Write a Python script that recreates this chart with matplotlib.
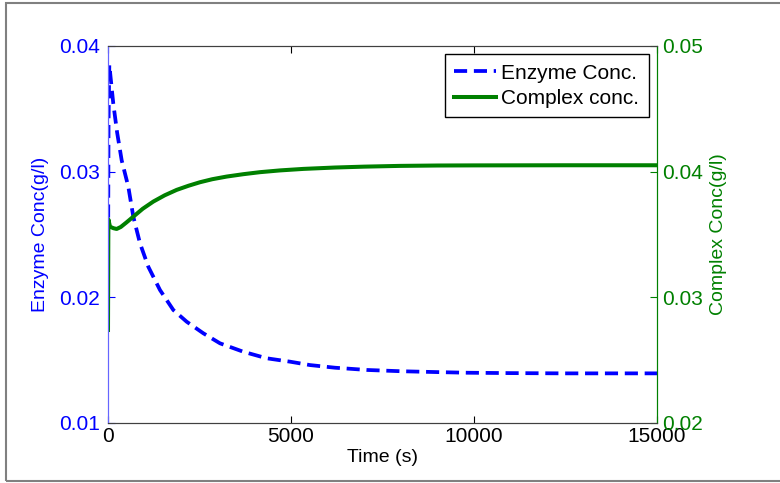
import matplotlib
matplotlib.use("Agg")
import matplotlib.pyplot as plt
from matplotlib.patches import Rectangle

plt.rcParams["font.family"] = ["Liberation Sans", "DejaVu Sans"]

# enzyme concentration (left axis, g/l)
t_enz = [0, 15, 36, 145, 250, 374, 555, 692, 874, 1102, 1421, 1785, 2150,
         2604, 3060, 3697, 4335, 4973, 5519, 6200, 7076, 8000, 9000, 9809,
         11000, 12500, 15000]
enzyme = [0.0216, 0.0340, 0.0385, 0.0354, 0.0331, 0.0309, 0.0288, 0.02641,
          0.0243, 0.02243, 0.02058, 0.01899, 0.01806, 0.01714, 0.01634,
          0.01567, 0.01515, 0.01488, 0.01461, 0.01440, 0.01422, 0.01412,
          0.01405, 0.01400, 0.01397, 0.01395, 0.01395]

# complex concentration (right axis, g/l)
t_cpx = [0, 10, 55, 150, 237, 350, 500, 692, 950, 1238, 1550, 1876, 2200,
         2514, 2850, 3242, 3700, 4153, 4700, 5337, 6200, 7000, 7978, 9000,
         10000, 12500, 15000]
complex_c = [0.0274, 0.0362, 0.03562, 0.03550, 0.03544, 0.03560, 0.03595,
             0.03642, 0.03705, 0.03762, 0.03812, 0.03855, 0.03888, 0.03916,
             0.03940, 0.03961, 0.03980, 0.03996, 0.04010, 0.04022, 0.04033,
             0.04040, 0.04046, 0.04049, 0.04050, 0.04051, 0.04051]

BLUE = "#0000ff"
GREEN = "#008000"
FS = 15        # tick labels / legend
FS_LAB = 14    # axis labels

fig = plt.figure(figsize=(7.8, 4.83), dpi=100)
ax = fig.add_axes([108 / 780, 1 - 423 / 483, (657 - 108) / 780, (423 - 46) / 483])
ax2 = ax.twinx()

l1, = ax.plot(t_enz, enzyme, color=BLUE, lw=2.7, ls=(0, (3.5, 1.8)), label="Enzyme Conc.")
l2, = ax2.plot(t_cpx, complex_c, color=GREEN, lw=2.9, label="Complex conc.")

ax.set_xlim(0, 15000)
ax.set_ylim(0.01, 0.04)
ax2.set_ylim(0.02, 0.05)
ax.set_xticks([0, 5000, 10000, 15000])
ax.set_yticks([0.01, 0.02, 0.03, 0.04])
ax2.set_yticks([0.02, 0.03, 0.04, 0.05])
ax.set_yticklabels(["0.01", "0.02", "0.03", "0.04"])
ax2.set_yticklabels(["0.02", "0.03", "0.04", "0.05"])

ax.tick_params(axis="x", direction="in", length=5, top=True, labelsize=FS, colors="black", pad=3)
ax.tick_params(axis="y", direction="in", length=5, labelsize=FS, colors=BLUE, pad=6)
ax2.tick_params(axis="y", direction="in", length=5, labelsize=FS, colors=GREEN, pad=4)

for a in (ax, ax2):
    a.spines["top"].set_color("#404040")
    a.spines["bottom"].set_color("#404040")
    a.spines["left"].set_color("#6666ff")
    a.spines["right"].set_color(GREEN)

ax.set_xlabel("Time (s)", fontsize=FS_LAB, labelpad=2)
ax.set_ylabel("Enzyme Conc(g/l)", fontsize=FS_LAB, color=BLUE, labelpad=7)
ax2.set_ylabel("Complex Conc(g/l)", fontsize=FS_LAB, color=GREEN, labelpad=5)

leg = ax2.legend([l1, l2], ["Enzyme Conc.", "Complex conc."], loc="upper right",
                 fontsize=FS, fancybox=False, framealpha=1, edgecolor="black",
                 handlelength=2.0, handletextpad=0.25, labelspacing=0.3,
                 borderaxespad=0.4, borderpad=0.45)
leg.get_frame().set_linewidth(1.0)

# grey frame around the figure
fig.patches.append(Rectangle((6 / 780, 2 / 483), 1.2, 478 / 483, transform=fig.transFigure,
                             fill=False, edgecolor="#808080", lw=1.5))

fig.savefig("out.png", dpi=100)
